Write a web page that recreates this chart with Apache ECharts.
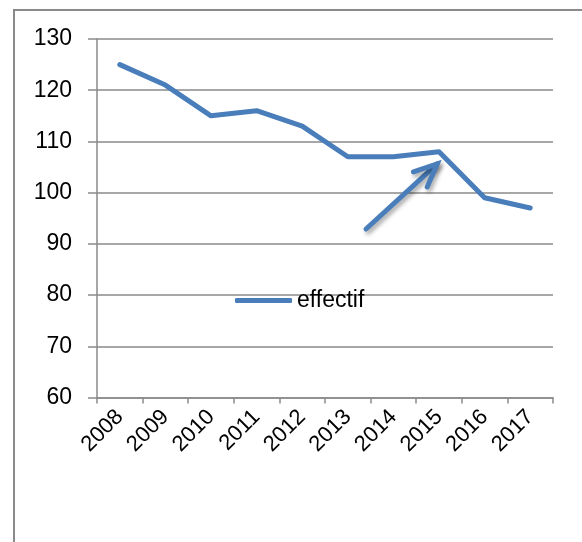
<!DOCTYPE html>
<html>
<head>
<meta charset="utf-8">
<script src="https://cdn.jsdelivr.net/npm/echarts@6/dist/echarts.min.js"></script>
<style>
  html, body { margin: 0; padding: 0; background: #fff; }
  #chart { width: 582px; height: 542px; }
</style>
</head>
<body>
<div id="chart"></div>
<script>
const years = ['2008', '2009', '2010', '2011', '2012', '2013', '2014', '2015', '2016', '2017'];
const effectif = [125, 121, 115, 116, 113, 107, 107, 108, 99, 97];
const yTicks = [60, 130, 10]; // min, max, step

// arrow annotation, in data units (category index, value)
const arrowTail = [5.4, 92.9];
const arrowTip = [6.96, 105.6];

const grey = '#8a8a8a';
const blue = '#4a7ebb';
const font = 'Liberation Sans';

const chart = echarts.init(document.getElementById('chart'));

chart.setOption({
  animation: false,
  grid: { left: 97, top: 39, right: 29, bottom: 144.5 },
  legend: {
    left: 235,
    top: 289,
    padding: 0,
    icon: 'roundRect',
    itemWidth: 57,
    itemHeight: 5,
    itemStyle: { color: blue, borderWidth: 0 },
    textStyle: { fontFamily: font, fontSize: 23, color: '#000' },
    data: ['effectif']
  },
  xAxis: {
    type: 'category',
    data: years,
    boundaryGap: true,
    axisLine: { lineStyle: { color: grey, width: 1.5 } },
    axisTick: { show: true, length: 6, alignWithLabel: false, lineStyle: { color: grey, width: 1.5 } },
    axisLabel: { rotate: 45, margin: 16, fontFamily: font, fontSize: 22, color: '#000', interval: 0 }
  },
  yAxis: {
    type: 'value',
    min: yTicks[0],
    max: yTicks[1],
    interval: yTicks[2],
    axisLine: { show: true, lineStyle: { color: grey, width: 1.5 } },
    axisTick: { show: true, length: 9, lineStyle: { color: grey, width: 1.5 } },
    axisLabel: { margin: 25, fontFamily: font, fontSize: 23, color: '#000' },
    splitLine: { show: true, lineStyle: { color: grey, width: 1.5 } }
  },
  series: [{
    name: 'effectif',
    type: 'line',
    data: effectif,
    symbol: 'none',
    lineStyle: { width: 5, color: blue, cap: 'round', join: 'round' },
    itemStyle: { color: blue }
  }]
});

function toPx(p) {
  const i = Math.floor(p[0]);
  const a = chart.convertToPixel({ gridIndex: 0 }, [i, p[1]]);
  const b = chart.convertToPixel({ gridIndex: 0 }, [i + 1, p[1]]);
  return [a[0] + (b[0] - a[0]) * (p[0] - i), a[1]];
}

const t = toPx(arrowTail);
const h = toPx(arrowTip);
const ang = Math.atan2(h[1] - t[1], h[0] - t[0]);
const headLen = 25;
const w1 = [h[0] - headLen * Math.cos(ang - 0.42), h[1] - headLen * Math.sin(ang - 0.42)];
const w2 = [h[0] - headLen * Math.cos(ang + 0.42), h[1] - headLen * Math.sin(ang + 0.42)];
const arrowStyle = {
  stroke: blue, lineWidth: 5, fill: null, lineCap: 'round', lineJoin: 'miter',
  shadowBlur: 4, shadowOffsetX: 2, shadowOffsetY: 3, shadowColor: 'rgba(0,0,0,0.35)'
};

chart.setOption({
  graphic: [
    {
      type: 'rect', silent: true, z: -10,
      shape: { x: 14, y: 10, width: 700, height: 700 },
      style: { fill: null, stroke: grey, lineWidth: 2 }
    },
    { type: 'polyline', silent: true, z: 10, shape: { points: [t, h] }, style: arrowStyle },
    { type: 'polyline', silent: true, z: 10, shape: { points: [w1, h, w2] }, style: arrowStyle }
  ]
});
</script>
</body>
</html>
